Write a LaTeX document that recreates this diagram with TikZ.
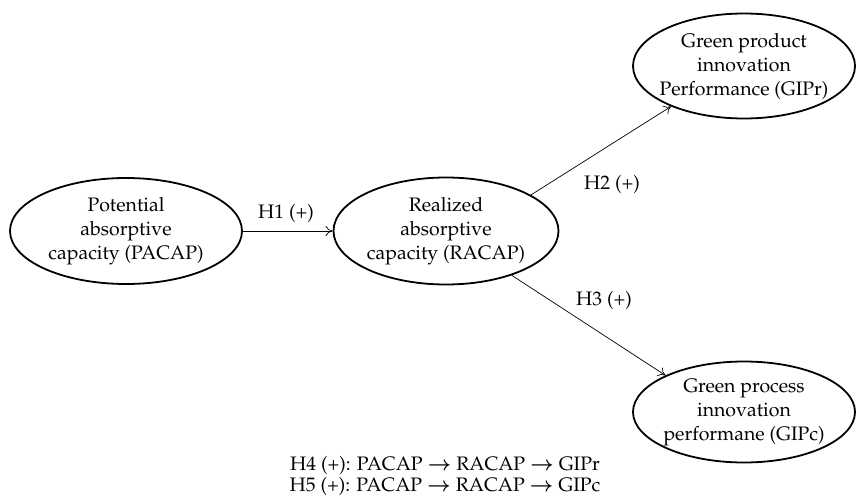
\documentclass[tikz,border=0pt]{standalone}
\usepackage[T1]{fontenc}
\usepackage{amsmath}
\usepackage{mathpazo}
\usetikzlibrary{shapes.geometric,arrows.meta}
\newcommand{\thickarr}{$\boldsymbol{\rightarrow}$}
\begin{document}
\begin{tikzpicture}[x=1pt,y=-1pt,
  construct/.style={ellipse,draw,line width=1.8pt,inner xsep=-14pt,inner ysep=0pt,align=center,
    font=\fontsize{19.5}{24}\selectfont},
  hyp/.style={-{To[length=7pt,width=10pt]},line width=0.7pt},
  hlabel/.style={font=\fontsize{19.5}{22}\selectfont,inner sep=0pt}]
\useasboundingbox (0,0) rectangle (856,497);
\node[construct,minimum width=232pt,minimum height=106pt] (pacap) at (126,231)
  {Potential\\absorptive\\capacity (PACAP)};
\node[construct,minimum width=225pt,minimum height=107pt] (racap) at (446,231)
  {Realized\\absorptive\\capacity (RACAP)};
\node[construct,minimum width=222pt,minimum height=105pt] (gipr) at (744,66)
  {Green product\\innovation\\Performance (GIPr)};
\node[construct,minimum width=222pt,minimum height=101pt] (gipc) at (744,412)
  {Green process\\innovation\\performane (GIPc)};
\draw[hyp] (pacap.east) -- (racap.west);
\draw[hyp] (racap.23) -- (gipr.209);
\draw[hyp] (racap.-34) -- (gipc.155);
\node[hlabel] (h1) at (286,213) {H1 (+)};
\node[hlabel] (h2) at (612,184) {H2 (+)};
\node[hlabel] (h3) at (604,300) {H3 (+)};
\node[hlabel,align=center,font=\fontsize{19.5}{21}\selectfont] (note) at (445,476)
  {H4 (+): PACAP \thickarr{} RACAP \thickarr{} GIPr\\
   H5 (+): PACAP \thickarr{} RACAP \thickarr{} GIPc};
\end{tikzpicture}
\end{document}
